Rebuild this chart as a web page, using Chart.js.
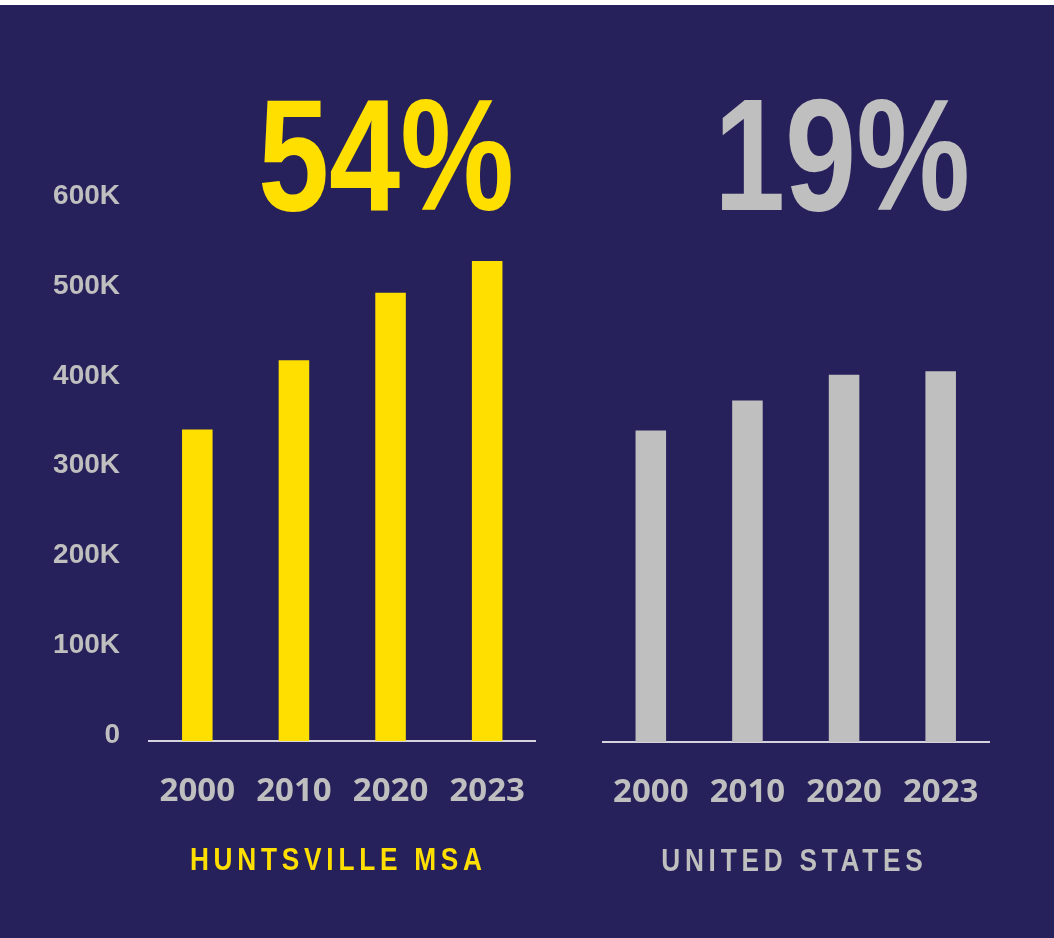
<!DOCTYPE html>
<html>
<head>
<meta charset="utf-8">
<script src="https://cdn.jsdelivr.net/npm/chart.js@4.4.1/dist/chart.umd.min.js"></script>
<style>
  html, body {
    margin: 0;
    padding: 0;
    background: #ffffff;
  }
  #page {
    position: relative;
    width: 1054px;
    height: 938px;
    background: #27215b;
    overflow: hidden;
  }
  #topStrip {
    position: absolute;
    left: 0;
    top: 0;
    width: 1054px;
    height: 5px;
    background: #ffffff;
  }
  .chart-box {
    position: absolute;
    top: 0;
    height: 938px;
  }
  /* no narrow face installed, so squeeze the regular bold one */
  .big-pct {
    position: absolute;
    width: 400px;
    text-align: center;
    font-family: "Liberation Sans", Arial, sans-serif;
    font-weight: bold;
    font-size: 160px;
    line-height: 160px;
    transform: scaleX(0.8);
    transform-origin: 50% 50%;
  }
  .region-name {
    position: absolute;
    width: 500px;
    text-align: center;
    font-family: "Liberation Sans", Arial, sans-serif;
    font-weight: bold;
    font-size: 32px;
    line-height: 32px;
    letter-spacing: 5.8px;
    text-indent: 5.8px;
    transform: scaleX(0.82);
    transform-origin: 50% 50%;
  }
</style>
</head>
<body>
<div id="page">
  <div id="topStrip"></div>
  <div class="chart-box" style="left:0; width:560px;"><canvas id="huntsvilleChart"></canvas></div>
  <div class="chart-box" style="left:560px; width:494px;"><canvas id="usChart"></canvas></div>

  <div class="big-pct" style="left:186px; top:75px; color:#ffdf00;">54%</div>
  <div class="big-pct" style="left:642px; top:75px; color:#bfbfbf;">19%</div>

  <div class="region-name" style="left:86px; top:843px; color:#ffdf00;">HUNTSVILLE MSA</div>
  <div class="region-name" style="left:542px; top:844px; color:#bfbfbf;">UNITED STATES</div>
</div>

<script>
const years = ["2000", "2010", "2020", "2023"];
const huntsvilleValues = [342000, 418000, 492000, 527000];
// US population indexed to the Huntsville 2000 level
const usValues = [342000, 375000, 403000, 407000];
const yTickValues = [0, 100000, 200000, 300000, 400000, 500000, 600000];

const textGray = "#bfbfbf";

function formatTick(value) {
  if (value === 0) {
    return "0";
  }
  return value / 1000 + "K";
}

function buildOptions(showLabels, padding, axisBottom) {
  const scales = {
    x: {
      grid: {
        display: false,
        drawTicks: false,
      },
      border: {
        display: true,
        color: "#d4d3de",
        width: 2,
      },
      ticks: {
        color: textGray,
        padding: 31,
        font: {
          family: "'Open Sans', sans-serif",
          size: 33,
          weight: "bold",
        },
      },
      afterFit(scale) {
        scale.height = 938 - axisBottom;
      },
    },
    y: {
      display: false,
      min: 0,
      max: 600000,
    },
  };

  if (showLabels) {
    // separate label axis, the printed labels sit a little off the bar scale
    scales.yLabels = {
      position: "left",
      min: -6700,
      max: 602300,
      grid: {
        display: false,
        drawTicks: false,
      },
      border: {
        display: false,
      },
      ticks: {
        color: textGray,
        padding: 29,
        font: {
          family: "'Liberation Sans', Arial, sans-serif",
          size: 28,
          weight: "bold",
        },
        callback: (value) => formatTick(value),
      },
      afterBuildTicks(scale) {
        scale.ticks = yTickValues.map((v) => ({ value: v }));
      },
      afterFit(scale) {
        scale.width = 149;
      },
    };
  }

  return {
    responsive: true,
    maintainAspectRatio: false,
    animation: false,
    layout: {
      padding,
    },
    plugins: {
      legend: {
        display: false,
      },
      tooltip: {
        enabled: false,
      },
    },
    scales,
  };
}

new Chart(document.getElementById("huntsvilleChart"), {
  type: "bar",
  data: {
    labels: years,
    datasets: [
      {
        label: "Huntsville MSA",
        data: huntsvilleValues,
        backgroundColor: "#ffdf00",
        borderWidth: 0,
        barPercentage: 0.316,
        categoryPercentage: 1,
      },
    ],
  },
  options: buildOptions(true, { top: 194.4, left: 0, right: 24.5, bottom: 0 }, 741),
});

new Chart(document.getElementById("usChart"), {
  type: "bar",
  data: {
    labels: years,
    datasets: [
      {
        label: "United States",
        data: usValues,
        backgroundColor: "#bfbfbf",
        borderWidth: 0,
        barPercentage: 0.316,
        categoryPercentage: 1,
      },
    ],
  },
  options: buildOptions(false, { top: 195.4, left: 42.5, right: 65, bottom: 0 }, 742),
});
</script>
</body>
</html>
